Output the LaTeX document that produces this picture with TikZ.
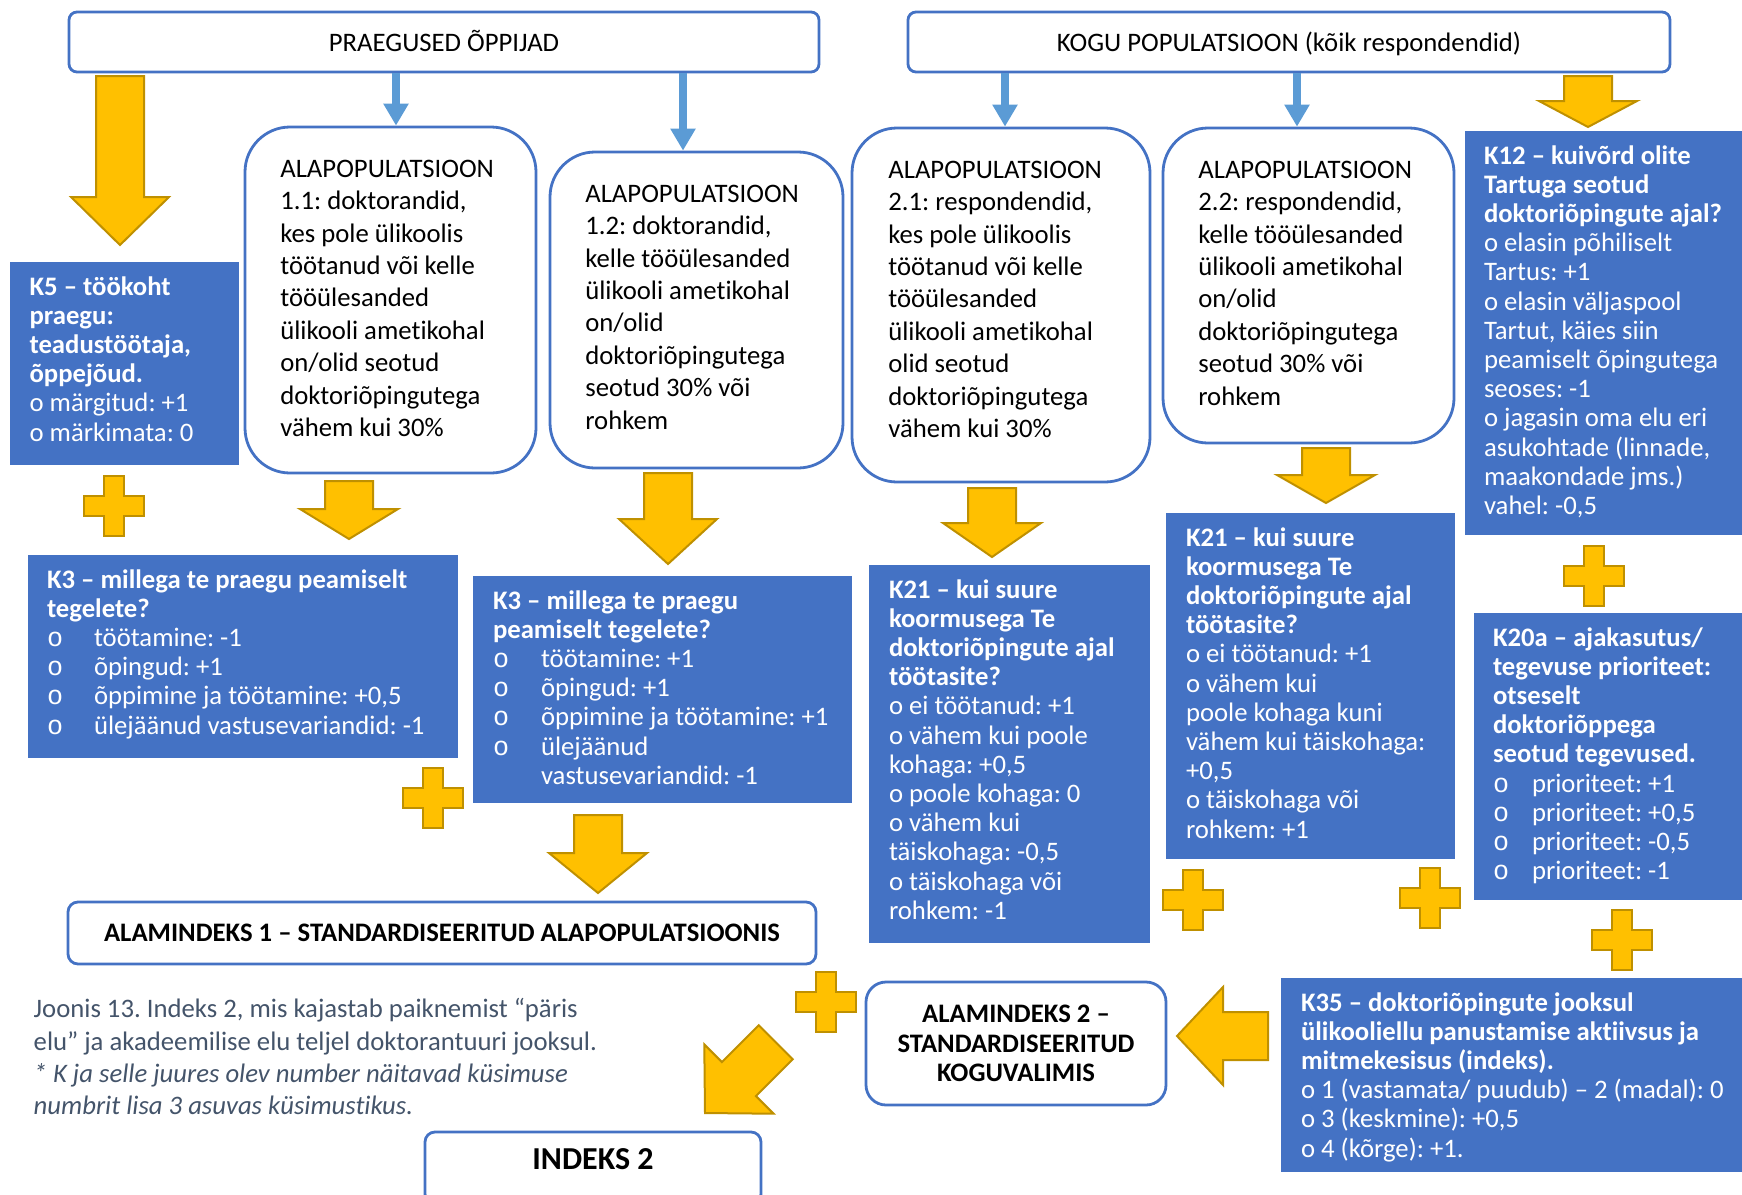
\documentclass[tikz,border=0pt]{standalone}
\usepackage{fontspec}
\setmainfont{Carlito}[Ligatures=NoCommon]
\newfontfamily\bulletfont{Liberation Mono}
\usepackage{tikz}
\usetikzlibrary{arrows.meta}
\frenchspacing

\definecolor{boxblue}{HTML}{4472C4}
\definecolor{lineblue}{HTML}{5B9BD5}
\definecolor{gold}{HTML}{FFC000}
\definecolor{golddark}{HTML}{BF9000}
\definecolor{capgray}{HTML}{44546A}

% bullet with a fixed tab
\newcommand{\bul}[1]{\makebox[#1][l]{\bulletfont o}}

\tikzset{
  headbox/.style={draw=boxblue, line width=0.28mm, rounded corners=0.8mm, inner sep=0pt,
    font=\fontsize{7.6pt}{9.22pt}\selectfont},
  popbox/.style={draw=boxblue, line width=0.28mm, rounded corners=4.5mm, inner sep=0pt},
  qbox/.style={fill=boxblue, inner sep=0pt},
  poptext/.style={anchor=north west, inner sep=0pt, align=left,
    font=\fontsize{7.6pt}{9.22pt}\selectfont},
  qtext/.style={anchor=north west, inner sep=0pt, align=left, text=white,
    font=\fontsize{7.6pt}{8.31pt}\selectfont},
  bluearrow/.style={draw=lineblue, line width=0.75mm, -{Triangle[width=2.4mm,length=2.2mm]}},
  yshape/.style={fill=gold, draw=golddark, line width=0.2mm},
  pics/yarrow/.style 2 args={code={
    \draw[yshape] (0,0) -- (-49,-#2) -- (-24,-#2) -- (-24,-#1) -- (24,-#1) -- (24,-#2) -- (49,-#2) -- cycle;
  }},
  pics/yplus/.style={code={
    \draw[yshape] (-10,-30) -- (10,-30) -- (10,-10) -- (30,-10) -- (30,10) -- (10,10)
      -- (10,30) -- (-10,30) -- (-10,10) -- (-30,10) -- (-30,-10) -- (-10,-10) -- cycle;
  }}
}

\begin{document}
\begin{tikzpicture}[x=0.1mm, y=-0.1mm]
  \useasboundingbox (0,0) rectangle (1742,1194);

  % Top boxes
  \node[headbox, minimum width=75mm, minimum height=6mm, text height=2.2mm, text depth=0.2mm]
    (praeg) at (444,42) {PRAEGUSED ÕPPIJAD};
  \node[headbox, minimum width=76.2mm, minimum height=6mm, text height=2.2mm, text depth=0.2mm]
    (kogu) at (1289,42) {KOGU POPULATSIOON (kõik respondendid)};

  % Subpopulation boxes
  \node[popbox, minimum width=29.1mm, minimum height=34.6mm] (alap11) at (390.5,300) {};
  \node[poptext] (alap11-t) at ([shift={(36,28.3)}]alap11.north west)
    {\strut ALAPOPULATSIOON\\1.1: doktorandid,\\kes pole ülikoolis\\töötanud või kelle\\tööülesanded\\ülikooli ametikohal\\on/olid seotud\\doktoriõpingutega\\vähem kui 30\%};
  \node[popbox, minimum width=29.3mm, minimum height=31.6mm] (alap12) at (696.5,310) {};
  \node[poptext] (alap12-t) at ([shift={(36,28.3)}]alap12.north west)
    {\strut ALAPOPULATSIOON\\1.2: doktorandid,\\kelle tööülesanded\\ülikooli ametikohal\\on/olid\\doktoriõpingutega\\seotud 30\% või\\rohkem};
  \node[popbox, minimum width=29.8mm, minimum height=35.4mm] (alap21) at (1001,305) {};
  \node[poptext] (alap21-t) at ([shift={(37,28.3)}]alap21.north west)
    {\strut ALAPOPULATSIOON\\2.1: respondendid,\\kes pole ülikoolis\\töötanud või kelle\\tööülesanded\\ülikooli ametikohal\\olid seotud\\doktoriõpingutega\\vähem kui 30\%};
  \node[popbox, minimum width=29.1mm, minimum height=31.5mm] (alap22) at (1308.5,285.5) {};
  \node[poptext] (alap22-t) at ([shift={(36,28.3)}]alap22.north west)
    {\strut ALAPOPULATSIOON\\2.2: respondendid,\\kelle tööülesanded\\ülikooli ametikohal\\on/olid\\doktoriõpingutega\\seotud 30\% või\\rohkem};

  % Thin arrows from the top boxes
  \coordinate (t11) at ([xshift=0.55mm]alap11.north);
  \coordinate (t12) at ([xshift=-1.35mm]alap12.north);
  \coordinate (t21) at ([xshift=0.4mm]alap21.north);
  \coordinate (t22) at ([xshift=-1.15mm]alap22.north);
  \draw[bluearrow] (praeg.south -| t11) -- (t11);
  \draw[bluearrow] (praeg.south -| t12) -- (t12);
  \draw[bluearrow] (kogu.south -| t21) -- (t21);
  \draw[bluearrow] (kogu.south -| t22) -- (t22);

  % Question boxes
  \node[qbox, minimum width=22.94mm, minimum height=20.3mm] (k5) at (124.3,363.5) {};
  \node[qtext] (k5-t) at ([shift={(20,12.6)}]k5.north west)
    {\strut\textbf{K5 – töökoht}\\\textbf{praegu:}\\\textbf{teadustöötaja,}\\\textbf{õppejõud.}\\o märgitud: +1\\o märkimata: 0};

  \node[qbox, minimum width=27.7mm, minimum height=40.4mm] (k12) at (1603.5,333) {};
  \node[qtext] (k12-t) at ([shift={(19,12.6)}]k12.north west)
    {\strut\textbf{K12 – kuivõrd olite}\\\textbf{Tartuga seotud}\\\textbf{doktoriõpingute ajal?}\\o elasin põhiliselt\\Tartus: +1\\o elasin väljaspool\\Tartut, käies siin\\peamiselt õpingutega\\seoses: -1\\o jagasin oma elu eri\\asukohtade (linnade,\\maakondade jms.)\\vahel: -0,5};

  \node[qbox, minimum width=43mm, minimum height=20.3mm] (k3a) at (243,656.5) {};
  \node[qtext] (k3a-t) at ([shift={(19,12.6)}]k3a.north west)
    {\strut\textbf{K3 – millega te praegu peamiselt}\\\textbf{tegelete?}\\\bul{4.7mm}töötamine: -1\\\bul{4.7mm}õpingud: +1\\\bul{4.7mm}õppimine ja töötamine: +0,5\\\bul{4.7mm}ülejäänud vastusevariandid: -1};

  \node[qbox, minimum width=37.9mm, minimum height=22.7mm] (k3b) at (662.5,689.5) {};
  \node[qtext] (k3b-t) at ([shift={(20,12.6)}]k3b.north west)
    {\strut\textbf{K3 – millega te praegu}\\\textbf{peamiselt tegelete?}\\\bul{4.8mm}töötamine: +1\\\bul{4.8mm}õpingud: +1\\\bul{4.8mm}õppimine ja töötamine: +1\\\bul{4.8mm}ülejäänud\\\hspace*{4.8mm}vastusevariandid: -1};

  \node[qbox, minimum width=28.1mm, minimum height=37.8mm] (k21a) at (1009.5,754) {};
  \node[qtext] (k21a-t) at ([shift={(20,12.6)}]k21a.north west)
    {\strut\textbf{K21 – kui suure}\\\textbf{koormusega Te}\\\textbf{doktoriõpingute ajal}\\\textbf{töötasite?}\\o ei töötanud: +1\\o vähem kui poole\\kohaga: +0,5\\o poole kohaga: 0\\o vähem kui\\täiskohaga: -0,5\\o täiskohaga või\\rohkem: -1};

  \node[qbox, minimum width=28.9mm, minimum height=34.6mm] (k21b) at (1310.5,686) {};
  \node[qtext] (k21b-t) at ([shift={(20,12.6)}]k21b.north west)
    {\strut\textbf{K21 – kui suure}\\\textbf{koormusega Te}\\\textbf{doktoriõpingute ajal}\\\textbf{töötasite?}\\o ei töötanud: +1\\o vähem kui\\poole kohaga kuni\\vähem kui täiskohaga:\\+0,5\\o täiskohaga või\\rohkem: +1};

  \node[qbox, minimum width=26.8mm, minimum height=28.7mm] (k20a) at (1608,756.5) {};
  \node[qtext] (k20a-t) at ([shift={(19,12.6)}]k20a.north west)
    {\strut\textbf{K20a – ajakasutus/}\\\textbf{tegevuse prioriteet:}\\\textbf{otseselt}\\\textbf{doktoriõppega}\\\textbf{seotud tegevused.}\\\bul{3.9mm}prioriteet: +1\\\bul{3.9mm}prioriteet: +0,5\\\bul{3.9mm}prioriteet: -0,5\\\bul{3.9mm}prioriteet: -1};

  \node[qbox, minimum width=46.1mm, minimum height=19.4mm] (k35) at (1511.5,1075) {};
  \node[qtext] (k35-t) at ([shift={(20,12.6)}]k35.north west)
    {\strut\textbf{K35 – doktoriõpingute jooksul}\\\textbf{ülikooliellu panustamise aktiivsus ja}\\\textbf{mitmekesisus (indeks).}\\o 1 (vastamata/ puudub) – 2 (madal): 0\\o 3 (keskmine): +0,5\\o 4 (kõrge): +1.};

  % Result boxes
  \node[headbox, rounded corners=1mm, minimum width=74.8mm, minimum height=6.2mm,
    font=\bfseries\fontsize{7.6pt}{9pt}\selectfont] (alam1) at (442,933)
    {ALAMINDEKS 1 – STANDARDISEERITUD ALAPOPULATSIOONIS};
  \node[headbox, rounded corners=2mm, minimum width=30mm, minimum height=12.3mm, align=center,
    font=\bfseries\fontsize{7.6pt}{8.39pt}\selectfont] (alam2) at (1016,1043.5)
    {ALAMINDEKS 2 –\\STANDARDISEERITUD\\KOGUVALIMIS};
  \node[headbox, rounded corners=1mm, minimum width=33.6mm, minimum height=7.2mm,
    text height=2.2mm, text depth=2.0mm,
    font=\bfseries\fontsize{9.1pt}{11pt}\selectfont] (indeks) at (593,1168) {INDEKS 2};

  % Caption
  \node[anchor=north west, inner sep=0pt, align=left, text=capgray,
    font=\fontsize{7.6pt}{9.2pt}\selectfont] (caption) at (33,994.4)
    {\strut Joonis 13. Indeks 2, mis kajastab paiknemist “päris\\elu” ja akadeemilise elu teljel doktorantuuri jooksul.\\\textit{* K ja selle juures olev number näitavad küsimuse}\\\textit{numbrit lisa 3 asuvas küsimustikus.}};

  % Draw the yellow block arrows (tip x, tip y, length, head length, rotation)
  \foreach \x/\y/\l/\h/\r in {120/245/169/48/0, 1588/127/51/26/0, 349/539/58/30/0,
      668/564/91/45/0, 992/557/69/34/0, 1326/503/55/28/0, 598/893/78/40/0,
      1177/1036/91/46/-90, 705/1113/100/48/-45}
    \pic[rotate=\r] at (\x,\y) {yarrow={\l}{\h}};

  % Draw the plus signs
  \foreach \x/\y in {114/506, 433/798, 1193/900, 1430/898, 1594/576, 1622/940, 826/1002}
    \pic at (\x,\y) {yplus};

\end{tikzpicture}
\end{document}
